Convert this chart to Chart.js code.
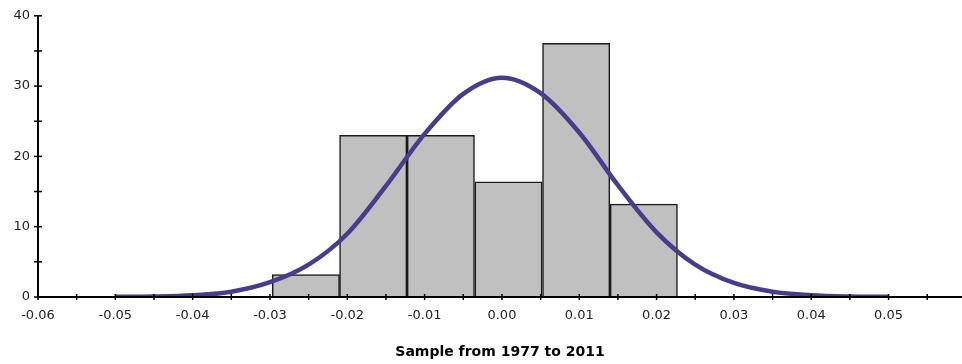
<!DOCTYPE html>
<html>
<head>
<meta charset="utf-8">
<script src="https://cdn.jsdelivr.net/npm/chart.js@4.4.0/dist/chart.umd.min.js"></script>
<style>
  html, body { margin: 0; padding: 0; background: #ffffff; }
  #wrap { width: 962px; height: 364px; }
</style>
</head>
<body>
<div id="wrap"><canvas id="histChart" width="962" height="364"></canvas></div>
<script>
// histogram bins (edges) and heights
const binEdges = [-0.0297, -0.0210, -0.0123, -0.0035, 0.0052, 0.0140, 0.0227];
const binHeights = [3.2, 23.0, 23.0, 16.4, 36.1, 13.2];

// fitted normal curve, read point by point
const curveX = [-0.05, -0.045, -0.04, -0.035, -0.03, -0.025, -0.02, -0.015, -0.01, -0.005, 0.0,
                0.005, 0.01, 0.015, 0.02, 0.025, 0.03, 0.035, 0.04, 0.045, 0.05];
const curveY = [0.02, 0.07, 0.25, 0.75, 2.1, 4.6, 9.0, 15.8, 23.2, 28.9, 31.2,
                29.0, 23.4, 15.9, 9.2, 4.6, 2.0, 0.75, 0.25, 0.07, 0.02];

const xMin = -0.06, xMax = 0.0595, xStep = 0.005;
const yMin = 0, yMax = 40, yStep = 5;

const barData = binHeights.map(function (h, i) {
    return { x: (binEdges[i] + binEdges[i + 1]) / 2, y: h };
});
const curveData = curveX.map(function (x, i) {
    return { x: x, y: curveY[i] };
});

const font = '"DejaVu Sans", Arial, sans-serif';

// axis lines and tick marks crossing them
const crossTicks = {
    id: 'crossTicks',
    afterDatasetsDraw: function (chart) {
        const ctx = chart.ctx;
        const xs = chart.scales.x, ys = chart.scales.y;
        const area = chart.chartArea;
        ctx.save();
        ctx.strokeStyle = '#000000';
        ctx.lineWidth = 2;
        ctx.beginPath();
        ctx.moveTo(area.left, area.top);
        ctx.lineTo(area.left, area.bottom);
        ctx.lineTo(area.right, area.bottom);
        ctx.stroke();
        ctx.lineWidth = 1.5;
        xs.ticks.forEach(function (t) {
            const px = xs.getPixelForValue(t.value);
            ctx.beginPath();
            ctx.moveTo(px, area.bottom - 3);
            ctx.lineTo(px, area.bottom + 3);
            ctx.stroke();
        });
        ys.ticks.forEach(function (t) {
            const py = ys.getPixelForValue(t.value);
            ctx.beginPath();
            ctx.moveTo(area.left - 4, py);
            ctx.lineTo(area.left + 4, py);
            ctx.stroke();
        });
        ctx.restore();
    }
};

new Chart(document.getElementById('histChart'), {
    data: {
        datasets: [
            {
                type: 'line',
                label: 'Normal',
                data: curveData,
                borderColor: '#483d8b',
                borderWidth: 4.5,
                pointRadius: 0,
                cubicInterpolationMode: 'monotone',
                fill: false,
                order: 0
            },
            {
                type: 'bar',
                label: 'Sample',
                data: barData,
                xAxisID: 'xb',
                grouped: false,
                backgroundColor: '#c0c0c0',
                borderColor: '#1a1a1a',
                borderWidth: 1.5,
                barPercentage: 1,
                categoryPercentage: 1,
                order: 1
            }
        ]
    },
    options: {
        responsive: false,
        animation: false,
        layout: { padding: { top: 15, right: 0, bottom: 0, left: 0 } },
        plugins: {
            legend: { display: false },
            tooltip: { enabled: false }
        },
        scales: {
            x: {
                type: 'linear',
                min: xMin,
                max: xMax,
                offset: false,
                grid: { display: false, drawTicks: false },
                border: { display: false },
                ticks: {
                    stepSize: xStep,
                    includeBounds: false,
                    autoSkip: false,
                    maxRotation: 0,
                    padding: 11,
                    color: '#222222',
                    font: { family: font, size: 13 },
                    callback: function (v) {
                        const r = Math.round(v * 1000);
                        if (r % 10 !== 0) return '';
                        const s = (Math.round(v * 100) / 100).toFixed(2);
                        return s === '-0.00' ? '0.00' : s;
                    }
                },
                title: {
                    display: true,
                    text: 'Sample from 1977 to 2011',
                    color: '#000000',
                    font: { family: font, size: 14, weight: 'bold' },
                    padding: { top: 0, bottom: 3 }
                },
                afterFit: function (scale) { scale.height = 67; }
            },
            // hidden twin axis for the bars, without ticks so bar width follows bin spacing
            xb: {
                type: 'linear',
                position: 'bottom',
                min: xMin,
                max: xMax,
                offset: false,
                display: false,
                afterBuildTicks: function (scale) { scale.ticks = []; }
            },
            y: {
                type: 'linear',
                min: yMin,
                max: yMax,
                grid: { display: false, drawTicks: false },
                border: { display: false },
                ticks: {
                    stepSize: yStep,
                    padding: 8,
                    color: '#222222',
                    font: { family: font, size: 13 },
                    callback: function (v) {
                        return v % 10 === 0 ? String(v) : '';
                    }
                },
                afterFit: function (scale) { scale.width = 38; }
            }
        }
    },
    plugins: [crossTicks]
});
</script>
</body>
</html>
